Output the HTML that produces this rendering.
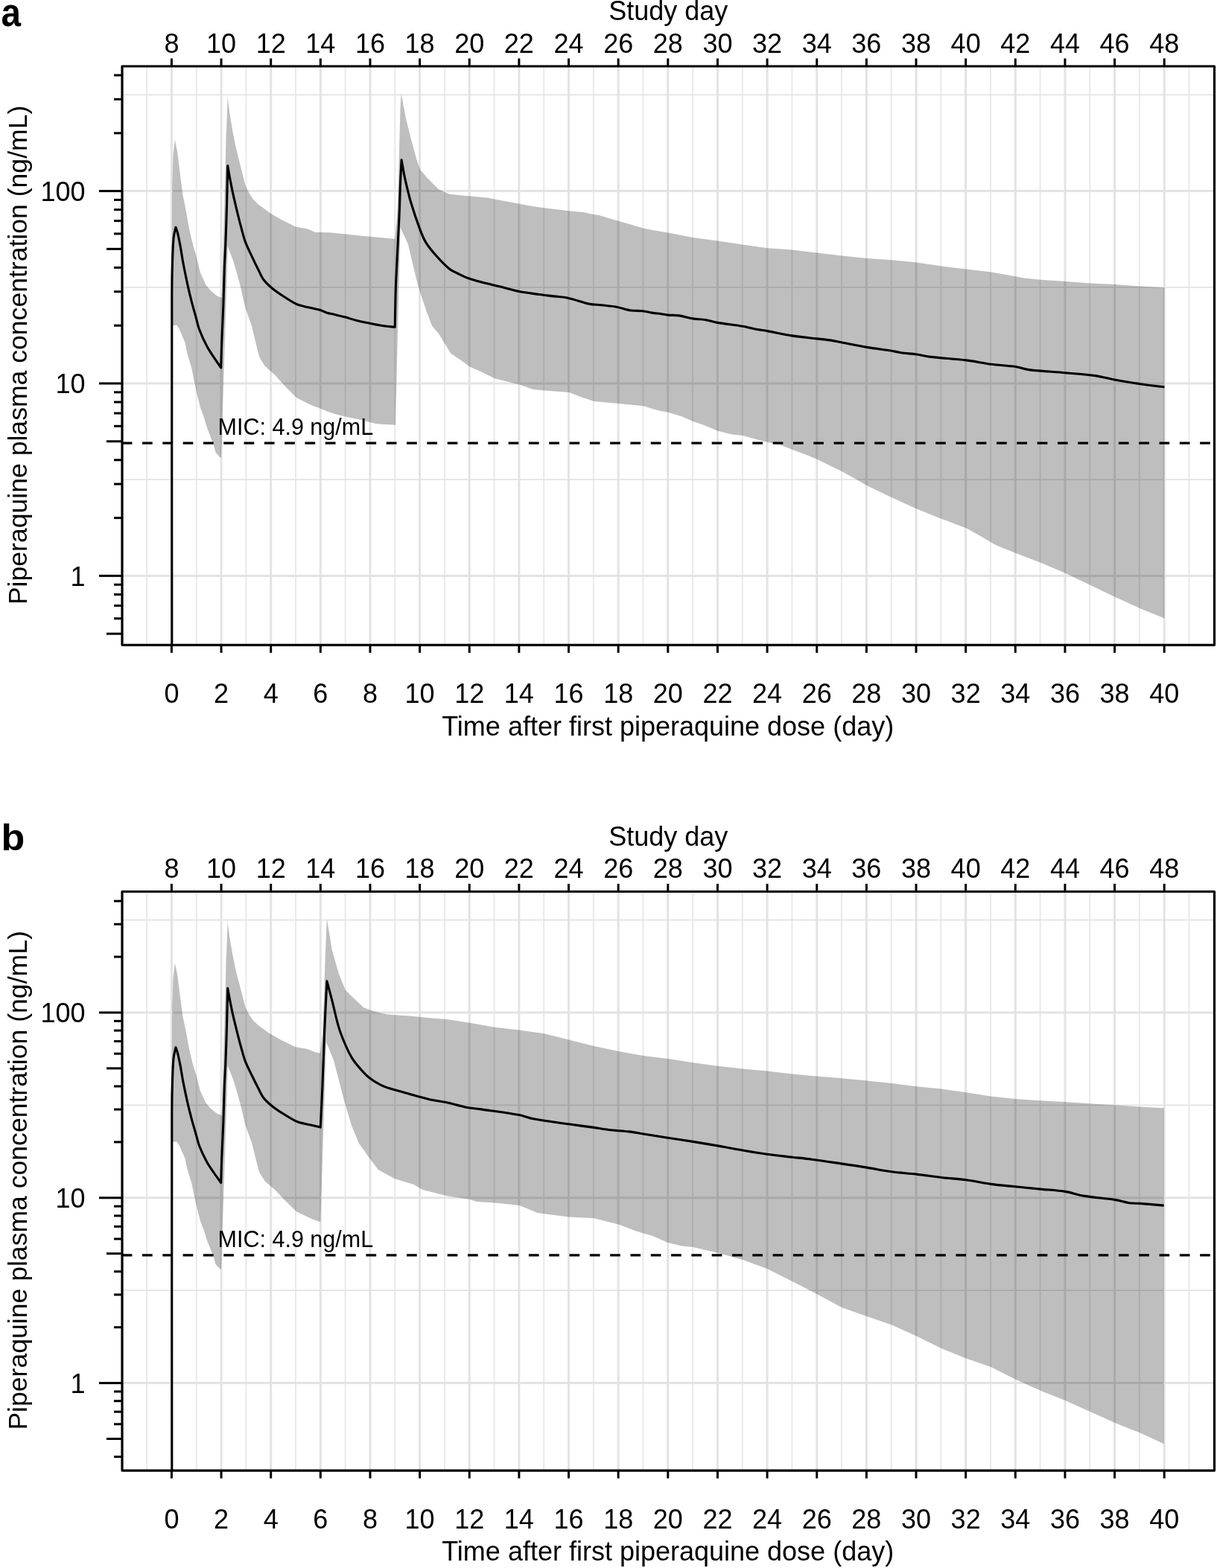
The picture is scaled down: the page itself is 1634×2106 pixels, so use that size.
<!DOCTYPE html>
<html><head><meta charset="utf-8"><style>
html,body{margin:0;padding:0;background:#fff;}
svg{display:block;}
text{font-family:"Liberation Sans", Arial, sans-serif;fill:#000;}
</style></head><body>
<svg width="1634" height="2106" viewBox="0 0 1634 2106">
<rect width="1634" height="2106" fill="#fff"/>
<g stroke="#e3e3e3"><line x1="197.08" y1="89.0" x2="197.08" y2="866.3" stroke-width="2.0" stroke="#e9e9e9"/><line x1="230.40" y1="89.0" x2="230.40" y2="866.3" stroke-width="3.0"/><line x1="263.72" y1="89.0" x2="263.72" y2="866.3" stroke-width="2.0" stroke="#e9e9e9"/><line x1="297.04" y1="89.0" x2="297.04" y2="866.3" stroke-width="3.0"/><line x1="330.36" y1="89.0" x2="330.36" y2="866.3" stroke-width="2.0" stroke="#e9e9e9"/><line x1="363.68" y1="89.0" x2="363.68" y2="866.3" stroke-width="3.0"/><line x1="397.00" y1="89.0" x2="397.00" y2="866.3" stroke-width="2.0" stroke="#e9e9e9"/><line x1="430.32" y1="89.0" x2="430.32" y2="866.3" stroke-width="3.0"/><line x1="463.64" y1="89.0" x2="463.64" y2="866.3" stroke-width="2.0" stroke="#e9e9e9"/><line x1="496.96" y1="89.0" x2="496.96" y2="866.3" stroke-width="3.0"/><line x1="530.28" y1="89.0" x2="530.28" y2="866.3" stroke-width="2.0" stroke="#e9e9e9"/><line x1="563.60" y1="89.0" x2="563.60" y2="866.3" stroke-width="3.0"/><line x1="596.92" y1="89.0" x2="596.92" y2="866.3" stroke-width="2.0" stroke="#e9e9e9"/><line x1="630.24" y1="89.0" x2="630.24" y2="866.3" stroke-width="3.0"/><line x1="663.56" y1="89.0" x2="663.56" y2="866.3" stroke-width="2.0" stroke="#e9e9e9"/><line x1="696.88" y1="89.0" x2="696.88" y2="866.3" stroke-width="3.0"/><line x1="730.20" y1="89.0" x2="730.20" y2="866.3" stroke-width="2.0" stroke="#e9e9e9"/><line x1="763.52" y1="89.0" x2="763.52" y2="866.3" stroke-width="3.0"/><line x1="796.84" y1="89.0" x2="796.84" y2="866.3" stroke-width="2.0" stroke="#e9e9e9"/><line x1="830.16" y1="89.0" x2="830.16" y2="866.3" stroke-width="3.0"/><line x1="863.48" y1="89.0" x2="863.48" y2="866.3" stroke-width="2.0" stroke="#e9e9e9"/><line x1="896.80" y1="89.0" x2="896.80" y2="866.3" stroke-width="3.0"/><line x1="930.12" y1="89.0" x2="930.12" y2="866.3" stroke-width="2.0" stroke="#e9e9e9"/><line x1="963.44" y1="89.0" x2="963.44" y2="866.3" stroke-width="3.0"/><line x1="996.76" y1="89.0" x2="996.76" y2="866.3" stroke-width="2.0" stroke="#e9e9e9"/><line x1="1030.08" y1="89.0" x2="1030.08" y2="866.3" stroke-width="3.0"/><line x1="1063.40" y1="89.0" x2="1063.40" y2="866.3" stroke-width="2.0" stroke="#e9e9e9"/><line x1="1096.72" y1="89.0" x2="1096.72" y2="866.3" stroke-width="3.0"/><line x1="1130.04" y1="89.0" x2="1130.04" y2="866.3" stroke-width="2.0" stroke="#e9e9e9"/><line x1="1163.36" y1="89.0" x2="1163.36" y2="866.3" stroke-width="3.0"/><line x1="1196.68" y1="89.0" x2="1196.68" y2="866.3" stroke-width="2.0" stroke="#e9e9e9"/><line x1="1230.00" y1="89.0" x2="1230.00" y2="866.3" stroke-width="3.0"/><line x1="1263.32" y1="89.0" x2="1263.32" y2="866.3" stroke-width="2.0" stroke="#e9e9e9"/><line x1="1296.64" y1="89.0" x2="1296.64" y2="866.3" stroke-width="3.0"/><line x1="1329.96" y1="89.0" x2="1329.96" y2="866.3" stroke-width="2.0" stroke="#e9e9e9"/><line x1="1363.28" y1="89.0" x2="1363.28" y2="866.3" stroke-width="3.0"/><line x1="1396.60" y1="89.0" x2="1396.60" y2="866.3" stroke-width="2.0" stroke="#e9e9e9"/><line x1="1429.92" y1="89.0" x2="1429.92" y2="866.3" stroke-width="3.0"/><line x1="1463.24" y1="89.0" x2="1463.24" y2="866.3" stroke-width="2.0" stroke="#e9e9e9"/><line x1="1496.56" y1="89.0" x2="1496.56" y2="866.3" stroke-width="3.0"/><line x1="1529.88" y1="89.0" x2="1529.88" y2="866.3" stroke-width="2.0" stroke="#e9e9e9"/><line x1="1563.20" y1="89.0" x2="1563.20" y2="866.3" stroke-width="3.0"/><line x1="1596.52" y1="89.0" x2="1596.52" y2="866.3" stroke-width="2.0" stroke="#e9e9e9"/><line x1="164.0" y1="773.40" x2="1630.5" y2="773.40" stroke-width="3.0"/><line x1="164.0" y1="644.20" x2="1630.5" y2="644.20" stroke-width="1.8"/><line x1="164.0" y1="515.00" x2="1630.5" y2="515.00" stroke-width="3.0"/><line x1="164.0" y1="385.80" x2="1630.5" y2="385.80" stroke-width="1.8"/><line x1="164.0" y1="256.60" x2="1630.5" y2="256.60" stroke-width="3.0"/><line x1="164.0" y1="127.40" x2="1630.5" y2="127.40" stroke-width="1.8"/></g>
<polygon points="231.0,437.0 231.4,248.6 232.4,208.5 234.8,187.5 238.2,204.2 242.6,240.0 245.5,262.0 249.9,284.1 254.3,309.0 258.8,328.1 263.2,342.8 269.0,366.3 276.4,382.5 282.3,389.8 291.1,397.2 297.7,400.1 302.9,211.1 303.5,183.8 304.8,155.6 305.6,129.9 308.2,151.3 312.5,176.9 316.8,198.3 321.0,215.4 325.3,232.5 329.6,249.6 334.7,259.8 339.8,267.5 346.7,274.4 354.4,280.0 361.6,285.5 376.3,294.3 396.8,304.6 413.0,307.6 423.3,312.0 442.0,312.3 464.1,314.5 493.4,317.4 515.5,319.6 530.2,321.1 533.1,291.0 534.6,254.2 536.0,202.8 537.5,144.1 538.7,125.7 544.9,158.8 552.2,188.1 559.5,214.6 564.0,227.8 574.2,239.5 588.9,254.2 603.6,260.8 625.6,263.0 640.0,264.2 655.9,265.8 663.9,267.4 679.8,270.6 697.3,273.8 714.8,276.9 730.7,279.3 751.4,281.7 763.3,283.3 783.2,284.9 796.7,288.1 803.9,288.9 830.1,296.8 846.8,301.6 863.5,306.4 878.7,309.6 896.7,312.5 930.1,318.9 963.5,323.6 996.9,328.4 1030.4,333.2 1063.0,335.6 1096.4,339.6 1130.6,343.5 1164.0,347.1 1197.4,349.3 1230.8,352.5 1264.2,357.6 1297.6,361.4 1331.0,365.5 1352.7,369.3 1375.0,373.5 1397.3,375.7 1430.7,377.9 1464.1,380.5 1497.5,382.1 1530.9,384.6 1563.4,386.2 1563.4,830.5 1530.9,817.2 1497.5,801.9 1464.1,786.0 1430.7,770.1 1397.3,755.7 1363.8,743.0 1336.8,731.9 1314.5,719.1 1297.6,709.6 1264.2,696.9 1230.8,683.5 1197.4,668.2 1164.0,652.3 1149.0,643.4 1130.5,633.2 1116.5,626.4 1097.4,616.9 1081.5,610.5 1064.0,604.1 1046.5,597.1 1030.6,593.9 1014.6,589.8 997.1,585.0 982.8,583.4 963.7,578.7 944.6,570.7 930.3,565.9 916.0,559.6 896.9,553.8 884.2,551.6 863.5,545.2 830.1,542.1 797.3,538.9 782.3,534.1 763.9,527.1 730.8,524.6 715.5,523.0 697.3,516.6 664.6,508.6 645.5,499.1 631.1,492.7 618.3,483.4 605.1,474.6 596.3,459.9 588.9,448.1 580.1,437.8 572.8,418.8 566.9,401.1 561.0,383.0 555.1,358.5 547.8,327.7 537.5,305.6 530.9,570.8 505.2,569.3 496.4,567.1 486.1,564.2 464.1,559.8 449.4,556.1 439.1,552.4 430.3,548.7 420.0,545.1 413.0,541.7 398.3,534.3 383.6,519.7 368.9,503.5 355.7,491.8 348.4,480.0 345.4,469.1 338.1,438.3 329.3,413.3 323.4,386.9 317.5,364.9 313.1,350.2 305.8,331.1 297.0,614.4 295.5,614.4 289.6,607.8 286.7,597.5 282.3,585.8 277.8,574.0 273.4,559.3 269.0,547.6 264.6,529.9 260.2,509.4 257.3,494.7 252.9,480.0 251.4,475.0 248.5,460.3 241.1,442.7 237.5,436.8 231.0,437.0" fill="#000" fill-opacity="0.255"/>
<line x1="163.7" y1="595.05" x2="1630.5" y2="595.05" stroke="#000" stroke-width="3.3" stroke-dasharray="13.7 13.61"/>
<text x="292.60" y="584.15" font-size="30.5">MIC: 4.9 ng/mL</text>
<path d="M230.8,866.0 C230.8,709.2 230.6,552.5 230.8,395.7 C230.8,380.1 231.1,364.6 231.6,349.0 C231.9,339.1 232.1,329.2 233.1,319.3 C233.6,314.5 235.0,309.9 235.9,305.2 C236.8,307.8 237.8,310.3 238.5,313.0 C239.8,318.4 240.9,323.9 241.9,329.4 C243.4,337.3 244.4,345.4 245.9,353.3 C248.1,364.6 250.4,375.9 252.9,387.2 C254.4,393.9 256.1,400.5 257.8,407.1 C259.3,412.8 260.9,418.4 262.5,424.0 C264.3,430.3 265.5,436.8 267.8,443.0 C270.6,450.5 274.0,457.9 277.8,465.0 C280.7,470.5 284.4,475.7 287.8,480.9 C290.7,485.3 293.7,489.6 296.7,493.9 C297.0,482.7 297.3,471.5 297.7,460.3 C298.3,443.2 299.3,426.0 299.9,408.9 C300.5,391.8 300.8,374.6 301.4,357.5 C301.8,347.7 302.4,337.9 302.8,328.1 C303.5,311.0 304.0,293.8 304.5,276.7 C305.0,258.6 305.3,240.6 305.7,222.5 C306.7,228.2 307.6,233.9 308.7,239.6 C310.0,246.3 311.2,253.0 312.7,259.6 C314.9,269.6 317.3,279.6 319.7,289.5 C321.2,295.7 322.8,301.9 324.5,308.0 C326.1,313.8 327.4,319.8 329.6,325.4 C332.5,332.9 336.2,340.0 339.6,347.3 C341.8,352.1 344.1,356.8 346.5,361.5 C348.8,366.1 350.5,371.1 353.6,375.2 C356.9,379.7 361.2,383.6 365.5,387.2 C369.9,390.9 374.7,394.1 379.5,397.2 C385.3,401.0 391.2,405.0 397.4,408.1 C400.7,409.8 404.4,410.5 408.0,411.5 C411.8,412.5 415.6,413.2 419.4,414.1 C423.0,414.9 426.7,415.5 430.3,416.6 C433.3,417.5 436.1,419.3 439.1,420.2 C442.5,421.2 446.0,421.6 449.4,422.4 C454.3,423.6 459.2,424.8 464.1,426.1 C469.0,427.5 473.8,429.3 478.8,430.5 C484.6,432.0 490.5,433.0 496.4,434.2 C502.8,435.5 509.1,436.8 515.5,437.8 C520.4,438.5 525.3,438.8 530.2,439.3 C530.7,419.5 530.8,399.8 531.6,380.0 C532.8,350.3 534.7,320.7 536.0,291.0 C536.7,276.3 536.9,261.6 537.5,246.9 C537.9,236.2 538.6,225.4 539.1,214.7 C540.6,223.0 541.9,231.4 543.7,239.6 C546.1,250.3 548.5,261.0 551.6,271.5 C555.2,283.6 559.2,295.6 563.6,307.4 C565.9,313.6 568.2,319.8 571.6,325.4 C575.5,331.8 580.5,337.7 585.5,343.3 C591.1,349.6 597.0,355.9 603.5,361.3 C606.6,363.8 610.4,365.2 614.0,367.0 C618.4,369.2 622.8,371.5 627.4,373.2 C632.5,375.1 637.8,376.5 643.0,378.0 C648.6,379.5 654.3,380.8 659.9,382.2 C663.9,383.2 667.8,384.1 671.8,385.1 C680.3,387.2 688.7,389.8 697.3,391.5 C706.2,393.3 715.3,394.2 724.3,395.5 C730.7,396.4 737.0,397.1 743.4,397.9 C749.8,398.7 756.2,398.8 762.5,400.2 C772.2,402.3 781.5,406.1 791.2,408.2 C796.4,409.3 801.8,409.2 807.1,409.8 C814.0,410.6 820.9,411.0 827.7,412.2 C834.2,413.4 840.3,416.0 846.8,417.0 C852.1,417.8 857.5,417.1 862.8,417.7 C867.1,418.2 871.2,419.4 875.5,420.1 C879.7,420.8 884.0,421.1 888.2,421.7 C891.0,422.1 893.8,422.8 896.7,423.1 C901.7,423.6 906.8,423.2 911.8,423.9 C918.0,424.8 923.9,426.9 930.1,427.9 C935.6,428.8 941.3,428.6 946.8,429.5 C952.4,430.4 957.9,432.4 963.5,433.4 C974.6,435.3 985.8,436.3 996.9,438.2 C1003.1,439.2 1009.1,441.0 1015.2,442.2 C1020.2,443.2 1025.4,443.7 1030.4,444.6 C1041.3,446.6 1052.1,449.2 1063.0,450.9 C1074.1,452.6 1085.3,453.6 1096.4,454.9 C1102.3,455.6 1108.2,456.0 1114.0,456.9 C1119.5,457.7 1125.0,459.0 1130.5,460.0 C1141.7,462.1 1152.8,464.5 1164.0,466.4 C1175.1,468.3 1186.3,469.4 1197.4,471.2 C1201.5,471.9 1205.4,473.1 1209.5,473.7 C1216.6,474.7 1223.7,475.0 1230.8,476.0 C1236.5,476.8 1242.0,478.4 1247.7,479.1 C1264.3,481.1 1281.0,481.9 1297.6,483.9 C1308.8,485.3 1319.8,487.8 1331.0,489.3 C1341.9,490.7 1352.9,490.9 1363.8,492.5 C1369.7,493.4 1375.4,495.9 1381.3,496.6 C1397.7,498.6 1414.2,499.3 1430.7,500.8 C1444.0,502.0 1457.3,502.7 1470.5,504.6 C1479.6,505.9 1488.5,508.6 1497.5,510.3 C1508.6,512.3 1519.7,514.1 1530.9,515.7 C1541.7,517.3 1552.6,518.5 1563.4,519.9" fill="none" stroke="#000" stroke-width="3.1" stroke-linejoin="round"/>
<rect x="164.0" y="89.0" width="1466.5" height="777.3" fill="none" stroke="#000" stroke-width="3.2" stroke-linejoin="round"/>
<g stroke="#000" stroke-width="3"><line x1="230.40" y1="866.3" x2="230.40" y2="876.8"/><line x1="230.40" y1="89.0" x2="230.40" y2="78.5"/><line x1="297.04" y1="866.3" x2="297.04" y2="876.8"/><line x1="297.04" y1="89.0" x2="297.04" y2="78.5"/><line x1="363.68" y1="866.3" x2="363.68" y2="876.8"/><line x1="363.68" y1="89.0" x2="363.68" y2="78.5"/><line x1="430.32" y1="866.3" x2="430.32" y2="876.8"/><line x1="430.32" y1="89.0" x2="430.32" y2="78.5"/><line x1="496.96" y1="866.3" x2="496.96" y2="876.8"/><line x1="496.96" y1="89.0" x2="496.96" y2="78.5"/><line x1="563.60" y1="866.3" x2="563.60" y2="876.8"/><line x1="563.60" y1="89.0" x2="563.60" y2="78.5"/><line x1="630.24" y1="866.3" x2="630.24" y2="876.8"/><line x1="630.24" y1="89.0" x2="630.24" y2="78.5"/><line x1="696.88" y1="866.3" x2="696.88" y2="876.8"/><line x1="696.88" y1="89.0" x2="696.88" y2="78.5"/><line x1="763.52" y1="866.3" x2="763.52" y2="876.8"/><line x1="763.52" y1="89.0" x2="763.52" y2="78.5"/><line x1="830.16" y1="866.3" x2="830.16" y2="876.8"/><line x1="830.16" y1="89.0" x2="830.16" y2="78.5"/><line x1="896.80" y1="866.3" x2="896.80" y2="876.8"/><line x1="896.80" y1="89.0" x2="896.80" y2="78.5"/><line x1="963.44" y1="866.3" x2="963.44" y2="876.8"/><line x1="963.44" y1="89.0" x2="963.44" y2="78.5"/><line x1="1030.08" y1="866.3" x2="1030.08" y2="876.8"/><line x1="1030.08" y1="89.0" x2="1030.08" y2="78.5"/><line x1="1096.72" y1="866.3" x2="1096.72" y2="876.8"/><line x1="1096.72" y1="89.0" x2="1096.72" y2="78.5"/><line x1="1163.36" y1="866.3" x2="1163.36" y2="876.8"/><line x1="1163.36" y1="89.0" x2="1163.36" y2="78.5"/><line x1="1230.00" y1="866.3" x2="1230.00" y2="876.8"/><line x1="1230.00" y1="89.0" x2="1230.00" y2="78.5"/><line x1="1296.64" y1="866.3" x2="1296.64" y2="876.8"/><line x1="1296.64" y1="89.0" x2="1296.64" y2="78.5"/><line x1="1363.28" y1="866.3" x2="1363.28" y2="876.8"/><line x1="1363.28" y1="89.0" x2="1363.28" y2="78.5"/><line x1="1429.92" y1="866.3" x2="1429.92" y2="876.8"/><line x1="1429.92" y1="89.0" x2="1429.92" y2="78.5"/><line x1="1496.56" y1="866.3" x2="1496.56" y2="876.8"/><line x1="1496.56" y1="89.0" x2="1496.56" y2="78.5"/><line x1="1563.20" y1="866.3" x2="1563.20" y2="876.8"/><line x1="1563.20" y1="89.0" x2="1563.20" y2="78.5"/><line x1="143.0" y1="851.19" x2="164.0" y2="851.19"/><line x1="153.0" y1="830.73" x2="164.0" y2="830.73"/><line x1="153.0" y1="813.43" x2="164.0" y2="813.43"/><line x1="153.0" y1="798.44" x2="164.0" y2="798.44"/><line x1="153.0" y1="785.22" x2="164.0" y2="785.22"/><line x1="133.0" y1="773.40" x2="164.0" y2="773.40"/><line x1="153.0" y1="695.61" x2="164.0" y2="695.61"/><line x1="153.0" y1="650.11" x2="164.0" y2="650.11"/><line x1="153.0" y1="617.83" x2="164.0" y2="617.83"/><line x1="143.0" y1="592.79" x2="164.0" y2="592.79"/><line x1="153.0" y1="572.33" x2="164.0" y2="572.33"/><line x1="153.0" y1="555.03" x2="164.0" y2="555.03"/><line x1="153.0" y1="540.04" x2="164.0" y2="540.04"/><line x1="153.0" y1="526.82" x2="164.0" y2="526.82"/><line x1="133.0" y1="515.00" x2="164.0" y2="515.00"/><line x1="153.0" y1="437.21" x2="164.0" y2="437.21"/><line x1="153.0" y1="391.71" x2="164.0" y2="391.71"/><line x1="153.0" y1="359.43" x2="164.0" y2="359.43"/><line x1="143.0" y1="334.39" x2="164.0" y2="334.39"/><line x1="153.0" y1="313.93" x2="164.0" y2="313.93"/><line x1="153.0" y1="296.63" x2="164.0" y2="296.63"/><line x1="153.0" y1="281.64" x2="164.0" y2="281.64"/><line x1="153.0" y1="268.42" x2="164.0" y2="268.42"/><line x1="133.0" y1="256.60" x2="164.0" y2="256.60"/><line x1="153.0" y1="178.81" x2="164.0" y2="178.81"/><line x1="153.0" y1="133.31" x2="164.0" y2="133.31"/><line x1="153.0" y1="101.03" x2="164.0" y2="101.03"/></g>
<g><text x="230.40" y="944.00" font-size="36.0" text-anchor="middle">0</text><text x="230.40" y="70.70" font-size="36.0" text-anchor="middle">8</text><text x="297.04" y="944.00" font-size="36.0" text-anchor="middle">2</text><text x="297.04" y="70.70" font-size="36.0" text-anchor="middle">10</text><text x="363.68" y="944.00" font-size="36.0" text-anchor="middle">4</text><text x="363.68" y="70.70" font-size="36.0" text-anchor="middle">12</text><text x="430.32" y="944.00" font-size="36.0" text-anchor="middle">6</text><text x="430.32" y="70.70" font-size="36.0" text-anchor="middle">14</text><text x="496.96" y="944.00" font-size="36.0" text-anchor="middle">8</text><text x="496.96" y="70.70" font-size="36.0" text-anchor="middle">16</text><text x="563.60" y="944.00" font-size="36.0" text-anchor="middle">10</text><text x="563.60" y="70.70" font-size="36.0" text-anchor="middle">18</text><text x="630.24" y="944.00" font-size="36.0" text-anchor="middle">12</text><text x="630.24" y="70.70" font-size="36.0" text-anchor="middle">20</text><text x="696.88" y="944.00" font-size="36.0" text-anchor="middle">14</text><text x="696.88" y="70.70" font-size="36.0" text-anchor="middle">22</text><text x="763.52" y="944.00" font-size="36.0" text-anchor="middle">16</text><text x="763.52" y="70.70" font-size="36.0" text-anchor="middle">24</text><text x="830.16" y="944.00" font-size="36.0" text-anchor="middle">18</text><text x="830.16" y="70.70" font-size="36.0" text-anchor="middle">26</text><text x="896.80" y="944.00" font-size="36.0" text-anchor="middle">20</text><text x="896.80" y="70.70" font-size="36.0" text-anchor="middle">28</text><text x="963.44" y="944.00" font-size="36.0" text-anchor="middle">22</text><text x="963.44" y="70.70" font-size="36.0" text-anchor="middle">30</text><text x="1030.08" y="944.00" font-size="36.0" text-anchor="middle">24</text><text x="1030.08" y="70.70" font-size="36.0" text-anchor="middle">32</text><text x="1096.72" y="944.00" font-size="36.0" text-anchor="middle">26</text><text x="1096.72" y="70.70" font-size="36.0" text-anchor="middle">34</text><text x="1163.36" y="944.00" font-size="36.0" text-anchor="middle">28</text><text x="1163.36" y="70.70" font-size="36.0" text-anchor="middle">36</text><text x="1230.00" y="944.00" font-size="36.0" text-anchor="middle">30</text><text x="1230.00" y="70.70" font-size="36.0" text-anchor="middle">38</text><text x="1296.64" y="944.00" font-size="36.0" text-anchor="middle">32</text><text x="1296.64" y="70.70" font-size="36.0" text-anchor="middle">40</text><text x="1363.28" y="944.00" font-size="36.0" text-anchor="middle">34</text><text x="1363.28" y="70.70" font-size="36.0" text-anchor="middle">42</text><text x="1429.92" y="944.00" font-size="36.0" text-anchor="middle">36</text><text x="1429.92" y="70.70" font-size="36.0" text-anchor="middle">44</text><text x="1496.56" y="944.00" font-size="36.0" text-anchor="middle">38</text><text x="1496.56" y="70.70" font-size="36.0" text-anchor="middle">46</text><text x="1563.20" y="944.00" font-size="36.0" text-anchor="middle">40</text><text x="1563.20" y="70.70" font-size="36.0" text-anchor="middle">48</text><text x="114.60" y="786.50" font-size="36.0" text-anchor="end">1</text><text x="114.60" y="528.10" font-size="36.0" text-anchor="end">10</text><text x="114.60" y="269.70" font-size="36.0" text-anchor="end">100</text><text x="896.70" y="987.70" font-size="36.0" text-anchor="middle">Time after first piperaquine dose (day)</text><text x="897.30" y="27.30" font-size="36.0" text-anchor="middle">Study day</text><text x="0" y="0" transform="translate(35.7,476.9) rotate(-90)" font-size="35.6" text-anchor="middle">Piperaquine plasma concentration (ng/mL)</text><text x="0" y="0" transform="translate(1.6,35.0) scale(0.9,1)" font-size="53" font-weight="bold">a</text></g>
<g stroke="#e3e3e3"><line x1="197.08" y1="1197.5" x2="197.08" y2="1975.1" stroke-width="2.0" stroke="#e9e9e9"/><line x1="230.40" y1="1197.5" x2="230.40" y2="1975.1" stroke-width="3.0"/><line x1="263.72" y1="1197.5" x2="263.72" y2="1975.1" stroke-width="2.0" stroke="#e9e9e9"/><line x1="297.04" y1="1197.5" x2="297.04" y2="1975.1" stroke-width="3.0"/><line x1="330.36" y1="1197.5" x2="330.36" y2="1975.1" stroke-width="2.0" stroke="#e9e9e9"/><line x1="363.68" y1="1197.5" x2="363.68" y2="1975.1" stroke-width="3.0"/><line x1="397.00" y1="1197.5" x2="397.00" y2="1975.1" stroke-width="2.0" stroke="#e9e9e9"/><line x1="430.32" y1="1197.5" x2="430.32" y2="1975.1" stroke-width="3.0"/><line x1="463.64" y1="1197.5" x2="463.64" y2="1975.1" stroke-width="2.0" stroke="#e9e9e9"/><line x1="496.96" y1="1197.5" x2="496.96" y2="1975.1" stroke-width="3.0"/><line x1="530.28" y1="1197.5" x2="530.28" y2="1975.1" stroke-width="2.0" stroke="#e9e9e9"/><line x1="563.60" y1="1197.5" x2="563.60" y2="1975.1" stroke-width="3.0"/><line x1="596.92" y1="1197.5" x2="596.92" y2="1975.1" stroke-width="2.0" stroke="#e9e9e9"/><line x1="630.24" y1="1197.5" x2="630.24" y2="1975.1" stroke-width="3.0"/><line x1="663.56" y1="1197.5" x2="663.56" y2="1975.1" stroke-width="2.0" stroke="#e9e9e9"/><line x1="696.88" y1="1197.5" x2="696.88" y2="1975.1" stroke-width="3.0"/><line x1="730.20" y1="1197.5" x2="730.20" y2="1975.1" stroke-width="2.0" stroke="#e9e9e9"/><line x1="763.52" y1="1197.5" x2="763.52" y2="1975.1" stroke-width="3.0"/><line x1="796.84" y1="1197.5" x2="796.84" y2="1975.1" stroke-width="2.0" stroke="#e9e9e9"/><line x1="830.16" y1="1197.5" x2="830.16" y2="1975.1" stroke-width="3.0"/><line x1="863.48" y1="1197.5" x2="863.48" y2="1975.1" stroke-width="2.0" stroke="#e9e9e9"/><line x1="896.80" y1="1197.5" x2="896.80" y2="1975.1" stroke-width="3.0"/><line x1="930.12" y1="1197.5" x2="930.12" y2="1975.1" stroke-width="2.0" stroke="#e9e9e9"/><line x1="963.44" y1="1197.5" x2="963.44" y2="1975.1" stroke-width="3.0"/><line x1="996.76" y1="1197.5" x2="996.76" y2="1975.1" stroke-width="2.0" stroke="#e9e9e9"/><line x1="1030.08" y1="1197.5" x2="1030.08" y2="1975.1" stroke-width="3.0"/><line x1="1063.40" y1="1197.5" x2="1063.40" y2="1975.1" stroke-width="2.0" stroke="#e9e9e9"/><line x1="1096.72" y1="1197.5" x2="1096.72" y2="1975.1" stroke-width="3.0"/><line x1="1130.04" y1="1197.5" x2="1130.04" y2="1975.1" stroke-width="2.0" stroke="#e9e9e9"/><line x1="1163.36" y1="1197.5" x2="1163.36" y2="1975.1" stroke-width="3.0"/><line x1="1196.68" y1="1197.5" x2="1196.68" y2="1975.1" stroke-width="2.0" stroke="#e9e9e9"/><line x1="1230.00" y1="1197.5" x2="1230.00" y2="1975.1" stroke-width="3.0"/><line x1="1263.32" y1="1197.5" x2="1263.32" y2="1975.1" stroke-width="2.0" stroke="#e9e9e9"/><line x1="1296.64" y1="1197.5" x2="1296.64" y2="1975.1" stroke-width="3.0"/><line x1="1329.96" y1="1197.5" x2="1329.96" y2="1975.1" stroke-width="2.0" stroke="#e9e9e9"/><line x1="1363.28" y1="1197.5" x2="1363.28" y2="1975.1" stroke-width="3.0"/><line x1="1396.60" y1="1197.5" x2="1396.60" y2="1975.1" stroke-width="2.0" stroke="#e9e9e9"/><line x1="1429.92" y1="1197.5" x2="1429.92" y2="1975.1" stroke-width="3.0"/><line x1="1463.24" y1="1197.5" x2="1463.24" y2="1975.1" stroke-width="2.0" stroke="#e9e9e9"/><line x1="1496.56" y1="1197.5" x2="1496.56" y2="1975.1" stroke-width="3.0"/><line x1="1529.88" y1="1197.5" x2="1529.88" y2="1975.1" stroke-width="2.0" stroke="#e9e9e9"/><line x1="1563.20" y1="1197.5" x2="1563.20" y2="1975.1" stroke-width="3.0"/><line x1="1596.52" y1="1197.5" x2="1596.52" y2="1975.1" stroke-width="2.0" stroke="#e9e9e9"/><line x1="164.0" y1="1857.60" x2="1630.5" y2="1857.60" stroke-width="3.0"/><line x1="164.0" y1="1733.20" x2="1630.5" y2="1733.20" stroke-width="1.8"/><line x1="164.0" y1="1608.80" x2="1630.5" y2="1608.80" stroke-width="3.0"/><line x1="164.0" y1="1484.40" x2="1630.5" y2="1484.40" stroke-width="1.8"/><line x1="164.0" y1="1360.00" x2="1630.5" y2="1360.00" stroke-width="3.0"/><line x1="164.0" y1="1235.60" x2="1630.5" y2="1235.60" stroke-width="1.8"/></g>
<polygon points="231.0,1533.7 231.4,1352.3 232.4,1313.7 234.8,1293.5 238.2,1309.5 242.6,1344.0 245.5,1365.2 249.9,1386.5 254.3,1410.5 258.8,1428.8 263.2,1443.0 269.0,1465.6 276.4,1481.2 282.3,1488.3 291.1,1495.4 297.7,1498.2 302.9,1316.2 303.5,1289.9 304.8,1262.8 305.6,1238.0 308.2,1258.6 312.5,1283.3 316.8,1303.9 321.0,1320.3 325.3,1336.8 329.6,1353.3 334.7,1363.1 339.8,1370.5 346.7,1377.1 354.4,1382.5 361.6,1387.8 376.3,1396.3 396.8,1406.2 413.0,1409.1 423.3,1413.3 429.9,1414.5 432.9,1389.5 434.9,1339.7 436.9,1279.8 438.9,1233.9 445.8,1275.8 454.8,1307.7 463.8,1329.7 473.8,1339.7 488.7,1353.6 499.7,1357.6 519.7,1362.6 549.6,1364.6 579.5,1367.6 600.0,1369.1 630.6,1373.7 664.3,1379.8 697.3,1383.5 731.0,1388.3 763.7,1396.6 797.4,1404.9 830.4,1411.9 863.8,1418.0 896.8,1422.0 930.5,1427.2 963.5,1431.8 997.2,1435.5 1029.9,1438.5 1063.6,1442.5 1090.0,1445.0 1130.6,1448.3 1163.9,1451.6 1197.2,1455.0 1230.5,1459.3 1263.8,1462.6 1297.1,1467.3 1330.3,1472.6 1363.6,1475.9 1396.9,1478.3 1430.2,1479.9 1463.5,1482.3 1496.8,1484.2 1530.1,1486.6 1562.7,1488.2 1562.7,1939.3 1530.1,1924.3 1496.8,1911.0 1463.5,1896.0 1430.2,1881.1 1396.9,1867.7 1363.6,1852.8 1330.3,1836.1 1297.1,1824.5 1263.8,1811.1 1230.5,1794.5 1197.2,1779.5 1163.9,1767.9 1130.6,1756.2 1090.0,1734.6 1063.6,1721.0 1029.9,1704.1 997.2,1691.9 963.5,1682.7 930.5,1675.1 915.2,1673.5 896.8,1668.9 875.4,1659.8 854.0,1653.6 830.4,1644.5 797.4,1636.2 763.7,1634.4 722.4,1629.2 697.3,1619.1 664.3,1615.4 639.8,1613.9 630.6,1610.8 600.0,1606.2 579.5,1601.0 567.5,1598.0 555.6,1591.0 529.6,1583.0 507.7,1571.1 495.7,1555.1 481.7,1535.2 471.8,1511.2 461.8,1477.3 447.8,1423.4 437.9,1399.5 430.3,1641.2 420.0,1637.8 413.0,1634.5 398.3,1627.4 383.6,1613.3 368.9,1597.7 355.7,1586.5 348.4,1575.1 345.4,1564.6 338.1,1534.9 329.3,1510.9 323.4,1485.5 317.5,1464.3 313.1,1450.1 305.8,1431.7 297.0,1704.5 295.5,1704.5 289.6,1698.2 286.7,1688.2 282.3,1677.0 277.8,1665.6 273.4,1651.5 269.0,1640.2 264.6,1623.1 260.2,1603.4 257.3,1589.3 252.9,1575.1 251.4,1570.3 248.5,1556.1 241.1,1539.2 237.5,1533.5 231.0,1533.7" fill="#000" fill-opacity="0.255"/>
<line x1="163.7" y1="1685.88" x2="1630.5" y2="1685.88" stroke="#000" stroke-width="3.3" stroke-dasharray="13.7 13.61"/>
<text x="292.60" y="1674.98" font-size="30.5">MIC: 4.9 ng/mL</text>
<path d="M230.8,1975.1 C230.8,1814.7 230.6,1654.3 230.8,1493.9 C230.8,1478.9 231.1,1464.0 231.6,1449.0 C231.9,1439.5 232.1,1429.9 233.1,1420.4 C233.6,1415.8 235.0,1411.3 235.9,1406.8 C236.8,1409.3 237.8,1411.7 238.5,1414.3 C239.8,1419.5 240.9,1424.8 241.9,1430.1 C243.4,1437.7 244.4,1445.5 245.9,1453.1 C248.1,1464.0 250.4,1474.9 252.9,1485.7 C254.4,1492.1 256.1,1498.5 257.8,1504.9 C259.3,1510.4 260.9,1515.8 262.5,1521.2 C264.3,1527.3 265.5,1533.6 267.8,1539.5 C270.6,1546.8 274.0,1553.8 277.8,1560.7 C280.7,1566.0 284.4,1571.0 287.8,1576.0 C290.7,1580.2 293.7,1584.3 296.7,1588.5 C297.0,1577.7 297.3,1566.9 297.7,1556.1 C298.3,1539.6 299.3,1523.1 299.9,1506.6 C300.5,1490.1 300.8,1473.7 301.4,1457.2 C301.8,1447.7 302.4,1438.3 302.8,1428.8 C303.5,1412.3 304.0,1395.9 304.5,1379.4 C305.0,1362.0 305.3,1344.6 305.7,1327.2 C306.7,1332.7 307.6,1338.1 308.7,1343.6 C310.0,1350.0 311.2,1356.5 312.7,1362.9 C314.9,1372.5 317.3,1382.1 319.7,1391.7 C321.2,1397.7 322.8,1403.6 324.5,1409.5 C326.1,1415.1 327.4,1420.8 329.6,1426.2 C332.5,1433.4 336.2,1440.3 339.6,1447.3 C341.8,1451.9 344.1,1456.5 346.5,1461.0 C348.8,1465.4 350.6,1470.2 353.6,1474.2 C357.0,1478.6 361.2,1482.2 365.5,1485.7 C369.9,1489.3 374.7,1492.4 379.5,1495.4 C385.3,1499.1 391.2,1502.9 397.4,1505.9 C400.7,1507.5 404.4,1508.2 408.0,1509.1 C411.8,1510.1 415.6,1510.7 419.4,1511.6 C423.0,1512.4 426.7,1513.3 430.3,1514.1 C431.2,1495.9 432.1,1477.6 432.9,1459.4 C434.0,1432.8 434.8,1406.2 435.9,1379.6 C436.8,1359.0 437.9,1338.3 438.9,1317.7 C441.2,1326.3 443.6,1334.9 445.8,1343.6 C448.9,1355.6 451.2,1367.8 454.8,1379.6 C457.2,1387.8 460.4,1395.7 463.8,1403.5 C466.4,1409.6 469.3,1415.7 472.8,1421.4 C475.9,1426.4 479.8,1431.0 483.7,1435.4 C487.4,1439.6 491.2,1444.0 495.7,1447.4 C501.3,1451.7 507.3,1455.4 513.7,1458.4 C519.4,1461.1 525.6,1462.5 531.6,1464.3 C537.6,1466.1 543.6,1467.6 549.6,1469.3 C554.2,1470.6 558.8,1472.1 563.5,1473.3 C568.8,1474.7 574.1,1476.2 579.5,1477.3 C586.3,1478.7 593.2,1479.4 600.0,1480.8 C608.2,1482.6 616.2,1485.3 624.5,1486.9 C631.6,1488.3 638.8,1488.9 645.9,1489.9 C663.0,1492.4 680.3,1494.5 697.3,1497.6 C703.8,1498.8 709.8,1501.6 716.3,1502.8 C732.0,1505.7 747.9,1507.5 763.7,1509.8 C774.9,1511.4 786.2,1512.8 797.4,1514.4 C804.0,1515.4 810.6,1516.7 817.3,1517.5 C826.4,1518.6 835.7,1518.8 844.8,1519.9 C851.2,1520.7 857.5,1522.0 863.8,1523.0 C874.8,1524.8 885.8,1526.5 896.8,1528.2 C908.0,1530.0 919.3,1531.6 930.5,1533.4 C941.5,1535.2 952.5,1537.0 963.5,1538.9 C974.7,1540.9 985.9,1543.1 997.2,1545.0 C1008.1,1546.9 1019.0,1548.7 1029.9,1550.2 C1041.1,1551.8 1052.4,1552.9 1063.6,1554.2 C1072.4,1555.2 1081.2,1556.0 1090.0,1557.2 C1103.6,1559.0 1117.1,1561.1 1130.6,1563.1 C1141.7,1564.7 1152.8,1566.3 1163.9,1568.1 C1175.0,1569.9 1186.0,1572.3 1197.2,1573.8 C1208.3,1575.3 1219.4,1575.8 1230.5,1577.1 C1241.6,1578.4 1252.7,1580.2 1263.8,1581.5 C1274.9,1582.8 1286.0,1583.3 1297.1,1584.8 C1308.2,1586.3 1319.2,1588.9 1330.3,1590.4 C1341.4,1591.9 1352.5,1592.7 1363.6,1593.8 C1374.7,1594.9 1385.8,1596.0 1396.9,1597.1 C1408.0,1598.2 1419.2,1598.7 1430.2,1600.4 C1439.0,1601.8 1447.4,1605.0 1456.2,1606.4 C1469.7,1608.6 1483.3,1609.3 1496.8,1611.4 C1503.3,1612.4 1509.6,1614.7 1516.1,1615.7 C1520.7,1616.4 1525.4,1616.1 1530.1,1616.4 C1541.0,1617.2 1551.8,1618.2 1562.7,1619.1" fill="none" stroke="#000" stroke-width="3.1" stroke-linejoin="round"/>
<rect x="164.0" y="1197.5" width="1466.5" height="777.6" fill="none" stroke="#000" stroke-width="3.2" stroke-linejoin="round"/>
<g stroke="#000" stroke-width="3"><line x1="230.40" y1="1975.1" x2="230.40" y2="1985.6"/><line x1="230.40" y1="1197.5" x2="230.40" y2="1187.0"/><line x1="297.04" y1="1975.1" x2="297.04" y2="1985.6"/><line x1="297.04" y1="1197.5" x2="297.04" y2="1187.0"/><line x1="363.68" y1="1975.1" x2="363.68" y2="1985.6"/><line x1="363.68" y1="1197.5" x2="363.68" y2="1187.0"/><line x1="430.32" y1="1975.1" x2="430.32" y2="1985.6"/><line x1="430.32" y1="1197.5" x2="430.32" y2="1187.0"/><line x1="496.96" y1="1975.1" x2="496.96" y2="1985.6"/><line x1="496.96" y1="1197.5" x2="496.96" y2="1187.0"/><line x1="563.60" y1="1975.1" x2="563.60" y2="1985.6"/><line x1="563.60" y1="1197.5" x2="563.60" y2="1187.0"/><line x1="630.24" y1="1975.1" x2="630.24" y2="1985.6"/><line x1="630.24" y1="1197.5" x2="630.24" y2="1187.0"/><line x1="696.88" y1="1975.1" x2="696.88" y2="1985.6"/><line x1="696.88" y1="1197.5" x2="696.88" y2="1187.0"/><line x1="763.52" y1="1975.1" x2="763.52" y2="1985.6"/><line x1="763.52" y1="1197.5" x2="763.52" y2="1187.0"/><line x1="830.16" y1="1975.1" x2="830.16" y2="1985.6"/><line x1="830.16" y1="1197.5" x2="830.16" y2="1187.0"/><line x1="896.80" y1="1975.1" x2="896.80" y2="1985.6"/><line x1="896.80" y1="1197.5" x2="896.80" y2="1187.0"/><line x1="963.44" y1="1975.1" x2="963.44" y2="1985.6"/><line x1="963.44" y1="1197.5" x2="963.44" y2="1187.0"/><line x1="1030.08" y1="1975.1" x2="1030.08" y2="1985.6"/><line x1="1030.08" y1="1197.5" x2="1030.08" y2="1187.0"/><line x1="1096.72" y1="1975.1" x2="1096.72" y2="1985.6"/><line x1="1096.72" y1="1197.5" x2="1096.72" y2="1187.0"/><line x1="1163.36" y1="1975.1" x2="1163.36" y2="1985.6"/><line x1="1163.36" y1="1197.5" x2="1163.36" y2="1187.0"/><line x1="1230.00" y1="1975.1" x2="1230.00" y2="1985.6"/><line x1="1230.00" y1="1197.5" x2="1230.00" y2="1187.0"/><line x1="1296.64" y1="1975.1" x2="1296.64" y2="1985.6"/><line x1="1296.64" y1="1197.5" x2="1296.64" y2="1187.0"/><line x1="1363.28" y1="1975.1" x2="1363.28" y2="1985.6"/><line x1="1363.28" y1="1197.5" x2="1363.28" y2="1187.0"/><line x1="1429.92" y1="1975.1" x2="1429.92" y2="1985.6"/><line x1="1429.92" y1="1197.5" x2="1429.92" y2="1187.0"/><line x1="1496.56" y1="1975.1" x2="1496.56" y2="1985.6"/><line x1="1496.56" y1="1197.5" x2="1496.56" y2="1187.0"/><line x1="1563.20" y1="1975.1" x2="1563.20" y2="1985.6"/><line x1="1563.20" y1="1197.5" x2="1563.20" y2="1187.0"/><line x1="153.0" y1="1956.61" x2="164.0" y2="1956.61"/><line x1="143.0" y1="1932.50" x2="164.0" y2="1932.50"/><line x1="153.0" y1="1912.80" x2="164.0" y2="1912.80"/><line x1="153.0" y1="1896.14" x2="164.0" y2="1896.14"/><line x1="153.0" y1="1881.71" x2="164.0" y2="1881.71"/><line x1="153.0" y1="1868.98" x2="164.0" y2="1868.98"/><line x1="133.0" y1="1857.60" x2="164.0" y2="1857.60"/><line x1="153.0" y1="1782.70" x2="164.0" y2="1782.70"/><line x1="153.0" y1="1738.89" x2="164.0" y2="1738.89"/><line x1="153.0" y1="1707.81" x2="164.0" y2="1707.81"/><line x1="143.0" y1="1683.70" x2="164.0" y2="1683.70"/><line x1="153.0" y1="1664.00" x2="164.0" y2="1664.00"/><line x1="153.0" y1="1647.34" x2="164.0" y2="1647.34"/><line x1="153.0" y1="1632.91" x2="164.0" y2="1632.91"/><line x1="153.0" y1="1620.18" x2="164.0" y2="1620.18"/><line x1="133.0" y1="1608.80" x2="164.0" y2="1608.80"/><line x1="153.0" y1="1533.90" x2="164.0" y2="1533.90"/><line x1="153.0" y1="1490.09" x2="164.0" y2="1490.09"/><line x1="153.0" y1="1459.01" x2="164.0" y2="1459.01"/><line x1="143.0" y1="1434.90" x2="164.0" y2="1434.90"/><line x1="153.0" y1="1415.20" x2="164.0" y2="1415.20"/><line x1="153.0" y1="1398.54" x2="164.0" y2="1398.54"/><line x1="153.0" y1="1384.11" x2="164.0" y2="1384.11"/><line x1="153.0" y1="1371.38" x2="164.0" y2="1371.38"/><line x1="133.0" y1="1360.00" x2="164.0" y2="1360.00"/><line x1="153.0" y1="1285.10" x2="164.0" y2="1285.10"/><line x1="153.0" y1="1241.29" x2="164.0" y2="1241.29"/><line x1="153.0" y1="1210.21" x2="164.0" y2="1210.21"/></g>
<g><text x="230.40" y="2052.60" font-size="36.0" text-anchor="middle">0</text><text x="230.40" y="1179.30" font-size="36.0" text-anchor="middle">8</text><text x="297.04" y="2052.60" font-size="36.0" text-anchor="middle">2</text><text x="297.04" y="1179.30" font-size="36.0" text-anchor="middle">10</text><text x="363.68" y="2052.60" font-size="36.0" text-anchor="middle">4</text><text x="363.68" y="1179.30" font-size="36.0" text-anchor="middle">12</text><text x="430.32" y="2052.60" font-size="36.0" text-anchor="middle">6</text><text x="430.32" y="1179.30" font-size="36.0" text-anchor="middle">14</text><text x="496.96" y="2052.60" font-size="36.0" text-anchor="middle">8</text><text x="496.96" y="1179.30" font-size="36.0" text-anchor="middle">16</text><text x="563.60" y="2052.60" font-size="36.0" text-anchor="middle">10</text><text x="563.60" y="1179.30" font-size="36.0" text-anchor="middle">18</text><text x="630.24" y="2052.60" font-size="36.0" text-anchor="middle">12</text><text x="630.24" y="1179.30" font-size="36.0" text-anchor="middle">20</text><text x="696.88" y="2052.60" font-size="36.0" text-anchor="middle">14</text><text x="696.88" y="1179.30" font-size="36.0" text-anchor="middle">22</text><text x="763.52" y="2052.60" font-size="36.0" text-anchor="middle">16</text><text x="763.52" y="1179.30" font-size="36.0" text-anchor="middle">24</text><text x="830.16" y="2052.60" font-size="36.0" text-anchor="middle">18</text><text x="830.16" y="1179.30" font-size="36.0" text-anchor="middle">26</text><text x="896.80" y="2052.60" font-size="36.0" text-anchor="middle">20</text><text x="896.80" y="1179.30" font-size="36.0" text-anchor="middle">28</text><text x="963.44" y="2052.60" font-size="36.0" text-anchor="middle">22</text><text x="963.44" y="1179.30" font-size="36.0" text-anchor="middle">30</text><text x="1030.08" y="2052.60" font-size="36.0" text-anchor="middle">24</text><text x="1030.08" y="1179.30" font-size="36.0" text-anchor="middle">32</text><text x="1096.72" y="2052.60" font-size="36.0" text-anchor="middle">26</text><text x="1096.72" y="1179.30" font-size="36.0" text-anchor="middle">34</text><text x="1163.36" y="2052.60" font-size="36.0" text-anchor="middle">28</text><text x="1163.36" y="1179.30" font-size="36.0" text-anchor="middle">36</text><text x="1230.00" y="2052.60" font-size="36.0" text-anchor="middle">30</text><text x="1230.00" y="1179.30" font-size="36.0" text-anchor="middle">38</text><text x="1296.64" y="2052.60" font-size="36.0" text-anchor="middle">32</text><text x="1296.64" y="1179.30" font-size="36.0" text-anchor="middle">40</text><text x="1363.28" y="2052.60" font-size="36.0" text-anchor="middle">34</text><text x="1363.28" y="1179.30" font-size="36.0" text-anchor="middle">42</text><text x="1429.92" y="2052.60" font-size="36.0" text-anchor="middle">36</text><text x="1429.92" y="1179.30" font-size="36.0" text-anchor="middle">44</text><text x="1496.56" y="2052.60" font-size="36.0" text-anchor="middle">38</text><text x="1496.56" y="1179.30" font-size="36.0" text-anchor="middle">46</text><text x="1563.20" y="2052.60" font-size="36.0" text-anchor="middle">40</text><text x="1563.20" y="1179.30" font-size="36.0" text-anchor="middle">48</text><text x="114.60" y="1870.70" font-size="36.0" text-anchor="end">1</text><text x="114.60" y="1621.90" font-size="36.0" text-anchor="end">10</text><text x="114.60" y="1373.10" font-size="36.0" text-anchor="end">100</text><text x="896.70" y="2096.30" font-size="36.0" text-anchor="middle">Time after first piperaquine dose (day)</text><text x="897.30" y="1135.90" font-size="36.0" text-anchor="middle">Study day</text><text x="0" y="0" transform="translate(35.7,1585.4) rotate(-90)" font-size="35.6" text-anchor="middle">Piperaquine plasma concentration (ng/mL)</text><text x="0" y="0" transform="translate(1.6,1142.2) scale(1.04,1)" font-size="50" font-weight="bold">b</text></g>
</svg>
</body></html>
